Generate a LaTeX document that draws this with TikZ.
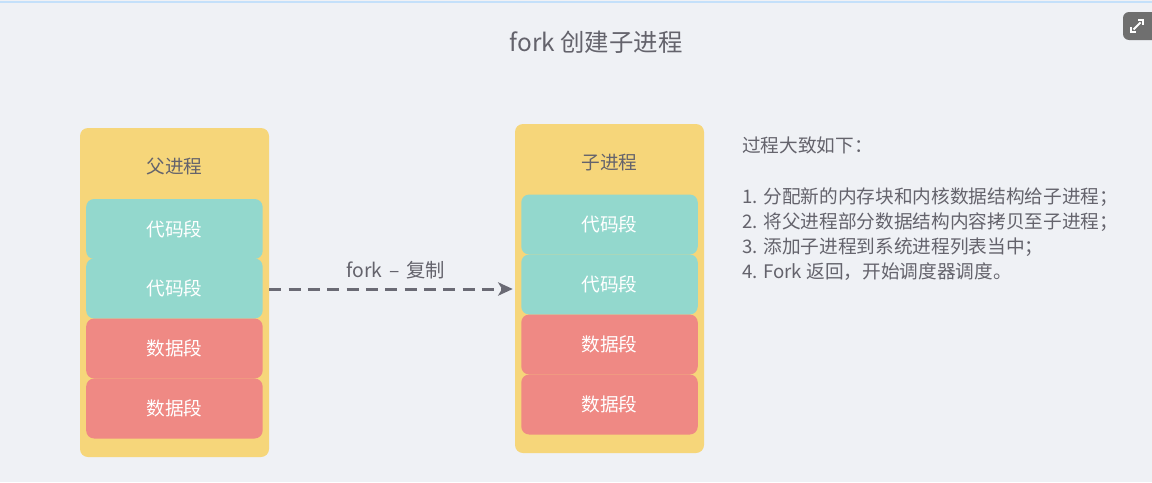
\documentclass[tikz,border=0pt]{standalone}
\usepackage{fontspec}
\setmainfont{Noto Sans CJK SC}
\usetikzlibrary{arrows.meta}
\definecolor{bg}{HTML}{EFF1F5}
\definecolor{procyellow}{HTML}{F6D67A}
\definecolor{codeteal}{HTML}{93D8CD}
\definecolor{datared}{HTML}{EF8984}
\definecolor{txtgray}{HTML}{64636C}
\definecolor{arrowgray}{HTML}{6A6A74}
\definecolor{topline}{HTML}{C4E0FA}
\definecolor{icongray}{HTML}{6F6F6F}
\tikzset{
  procbox/.style={fill=procyellow, rounded corners=8pt*0.75, minimum width=189*0.75pt, minimum height=329*0.75pt, inner sep=0pt},
  seg/.style={rounded corners=8pt*0.75, minimum width=176.5*0.75pt, minimum height=60*0.75pt, inner sep=0pt, text=white, font=\fontsize{14}{16}\selectfont},
  codeseg/.style={seg, fill=codeteal},
  dataseg/.style={seg, fill=datared},
  proclabel/.style={text=txtgray, font=\fontsize{14}{16}\selectfont},
  steptext/.style={text=txtgray, anchor=west, inner sep=0pt, font=\fontsize{14}{17}\selectfont},
  forkarrow/.style={draw=arrowgray, line width=2.25pt, dash pattern=on 9pt off 5.5pt, -{Stealth[length=11pt, width=10pt, inset=3pt]}},
  iconline/.style={white, line width=1.4pt}
}
\begin{document}
\begin{tikzpicture}[x=0.75pt, y=-0.75pt]
\useasboundingbox (0,0) rectangle (1152,482);
\fill[bg] (0,0) rectangle (1152,482);
\draw[topline, line width=1.5pt] (0,1.5) -- (1152,1.5);

% icon
\fill[icongray, rounded corners=4.5pt] (1123,12) rectangle (1165,40);
\coordinate (icne) at (1143,20);
\coordinate (icsw) at (1131,32);
\draw[iconline] ([shift={(-5,0)}]icne) -- (icne) -- ([shift={(0,5)}]icne);
\draw[iconline] ([shift={(0,-5)}]icsw) -- (icsw) -- ([shift={(5,0)}]icsw);
\draw[iconline] ([shift={(-2.5,2.5)}]icne) -- ([shift={(2.5,-2.5)}]icsw);

% title
\node[text=txtgray, font=\fontsize{18.3}{21}\selectfont] (title) at (596,42) {fork 创建子进程};

% parent process
\node[procbox] (parent) at (174.5,292.5) {};
\node[proclabel] (parentlabel) at (174.5,166) {父进程};
\node[codeseg] (pcode1) at (174.4,229) {代码段};
\node[codeseg] (pcode2) at (174.4,288.5) {代码段};
\node[dataseg] (pdata1) at (174.4,348.5) {数据段};
\node[dataseg] (pdata2) at (174.4,408.5) {数据段};

% child process
\node[procbox] (child) at (609.5,288.5) {};
\node[proclabel] (childlabel) at (609.5,162.5) {子进程};
\node[codeseg] (ccode1) at (609.5,224.5) {代码段};
\node[codeseg] (ccode2) at (609.5,284.5) {代码段};
\node[dataseg] (cdata1) at (609.5,344.5) {数据段};
\node[dataseg] (cdata2) at (609.5,404.5) {数据段};

% fork arrow
\draw[forkarrow] (parent.east |- 0,289) -- ([xshift=-1.5pt]child.west |- 0,289)
  node[midway, above=3pt, xshift=3.5pt, text=txtgray, font=\fontsize{14.5}{17}\selectfont] (forklabel) {fork\hspace{0.35em}–\hspace{0.35em}复制};

% steps
\node[steptext] (s0) at (742,145) {过程大致如下：};
\node[steptext] (s1) at (742,197) {1. 分配新的内存块和内核数据结构给子进程；};
\node[steptext] (s2) at (742,222) {2. 将父进程部分数据结构内容拷贝至子进程；};
\node[steptext] (s3) at (742,247) {3. 添加子进程到系统进程列表当中；};
\node[steptext] (s4) at (742,272) {4. Fork 返回，开始调度器调度。};
\end{tikzpicture}
\end{document}
